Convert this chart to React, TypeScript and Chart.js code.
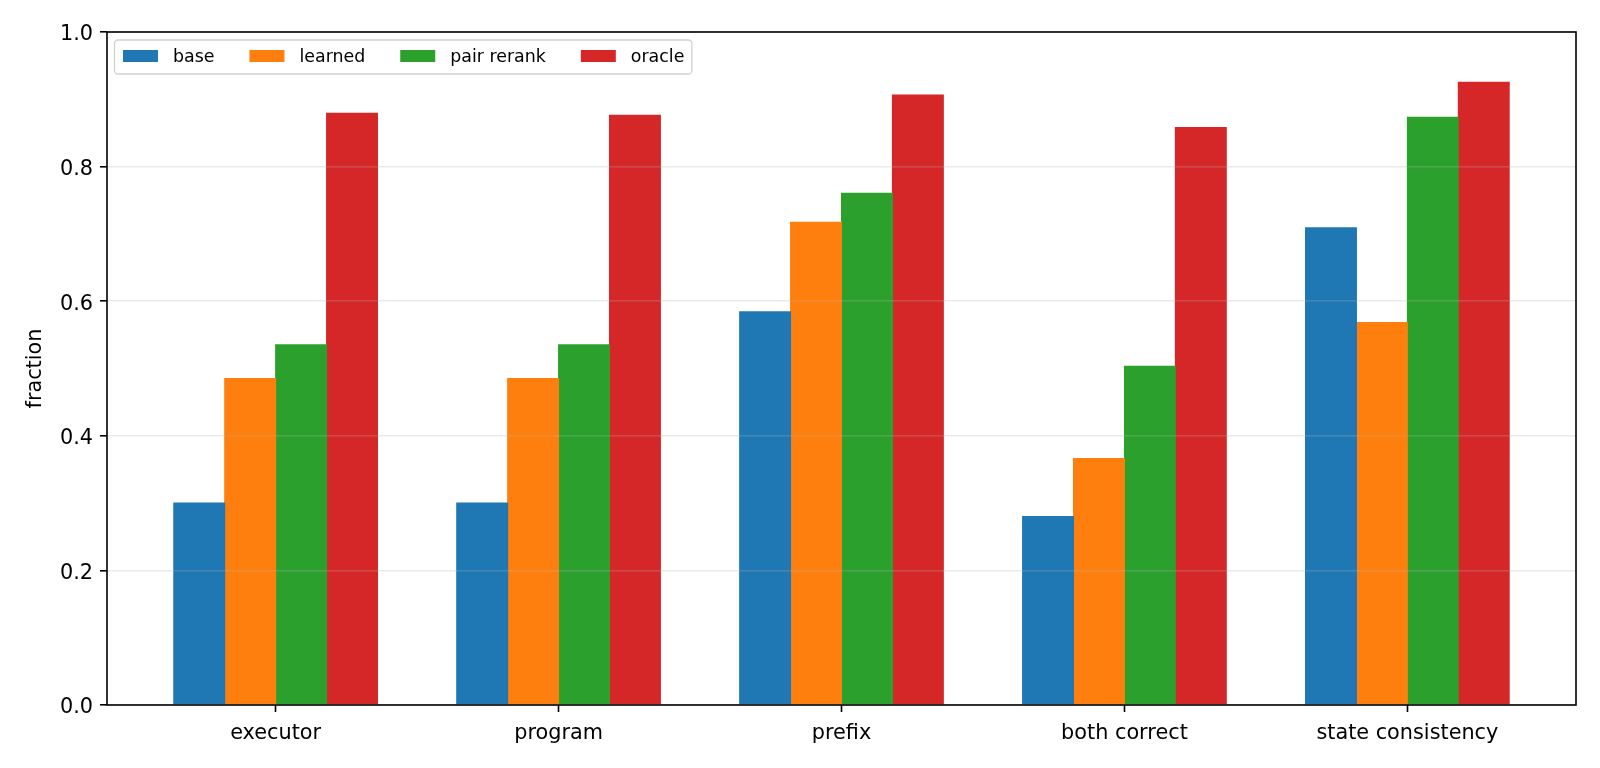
import React, { useEffect, useRef } from "react";
import { Chart, registerables } from "chart.js";

Chart.register(...registerables);

const categories = ["executor", "program", "prefix", "both correct", "state consistency"];
const seriesNames = ["base", "learned", "pair rerank", "oracle"];
const baseValues = [0.301, 0.301, 0.585, 0.281, 0.71];
const learnedValues = [0.486, 0.486, 0.718, 0.367, 0.569];
const pairRerankValues = [0.536, 0.536, 0.761, 0.504, 0.874];
const oracleValues = [0.88, 0.877, 0.907, 0.859, 0.926];
const seriesColors = ["#1f77b4", "#ff7f0e", "#2ca02c", "#d62728"];
const yAxisTitle = "fraction";

const FONT = '"DejaVu Sans", "Liberation Sans", sans-serif';

const frameAndLegendPlugin = {
  id: "frameAndLegend",
  afterDraw(chart: any) {
    const ctx = chart.ctx as CanvasRenderingContext2D;
    const a = chart.chartArea;
    ctx.save();
    // axes frame
    ctx.strokeStyle = "#000";
    ctx.lineWidth = 1.6;
    ctx.strokeRect(a.left, a.top, a.right - a.left, a.bottom - a.top);

    // legend (matplotlib style, upper left)
    const fs = 17.4;
    ctx.font = `${fs}px ${FONT}`;
    const items = chart.data.datasets.map((ds: any) => ({
      label: ds.label,
      color: ds.backgroundColor,
      tw: ctx.measureText(ds.label).width,
    }));
    const boxL = a.left + 7.5;
    const boxT = a.top + 8;
    const padL = 8.5;
    const padR = 7.5;
    const handleW = 35;
    const handleH = 12;
    const gap = 15;
    const colSp = 35;
    let w = padL + padR;
    items.forEach((it: any, i: number) => {
      w += handleW + gap + it.tw + (i < items.length - 1 ? colSp : 0);
    });
    const h = 34;
    const r = 3.5;
    ctx.beginPath();
    ctx.moveTo(boxL + r, boxT);
    ctx.lineTo(boxL + w - r, boxT);
    ctx.arcTo(boxL + w, boxT, boxL + w, boxT + r, r);
    ctx.lineTo(boxL + w, boxT + h - r);
    ctx.arcTo(boxL + w, boxT + h, boxL + w - r, boxT + h, r);
    ctx.lineTo(boxL + r, boxT + h);
    ctx.arcTo(boxL, boxT + h, boxL, boxT + h - r, r);
    ctx.lineTo(boxL, boxT + r);
    ctx.arcTo(boxL, boxT, boxL + r, boxT, r);
    ctx.closePath();
    ctx.fillStyle = "rgba(255,255,255,0.8)";
    ctx.fill();
    ctx.strokeStyle = "#d0d0d0";
    ctx.lineWidth = 1.3;
    ctx.stroke();

    let x = boxL + padL;
    const cy = boxT + h / 2;
    ctx.textBaseline = "middle";
    ctx.textAlign = "left";
    items.forEach((it: any) => {
      ctx.fillStyle = it.color;
      ctx.fillRect(x, cy - handleH / 2 - 1, handleW, handleH);
      x += handleW + gap;
      ctx.fillStyle = "#000";
      ctx.fillText(it.label, x, cy);
      x += it.tw + colSp;
    });
    ctx.restore();
  },
};

export default function App() {
  const canvasRef = useRef<HTMLCanvasElement | null>(null);

  useEffect(() => {
    const canvas = canvasRef.current;
    if (!canvas) return;
    const seriesValues = [baseValues, learnedValues, pairRerankValues, oracleValues];
    const datasets = seriesNames.map((name, si) => ({
      label: name,
      data: categories.map((_, ci) => ({ x: ci, y: seriesValues[si][ci] })),
      backgroundColor: seriesColors[si],
      borderWidth: 0,
      categoryPercentage: 0.72,
      barPercentage: 1.02,
    }));
    const tickFont = { family: FONT, size: 20.8 };
    const chart = new Chart(canvas, {
      type: "bar",
      data: { datasets },
      options: {
        responsive: false,
        animation: false,
        events: [],
        layout: { padding: { left: 0, right: 24, top: 32, bottom: 0 } },
        plugins: {
          legend: { display: false },
          tooltip: { enabled: false },
        },
        scales: {
          x: {
            type: "linear",
            min: -0.596,
            max: 4.596,
            offset: false,
            afterFit: (s: any) => {
              s.height = 63;
            },
            border: { display: false },
            grid: {
              offset: false,
              drawOnChartArea: false,
              drawTicks: true,
              tickLength: 7,
              tickColor: "#000",
              tickWidth: 1.6,
            },
            ticks: {
              stepSize: 1,
              includeBounds: false,
              autoSkip: false,
              maxRotation: 0,
              minRotation: 0,
              padding: 9,
              color: "#000",
              font: tickFont,
              callback: (v: any) => categories[Number(v)] ?? "",
            },
          },
          y: {
            min: 0,
            max: 1,
            afterFit: (s: any) => {
              s.width = 107;
            },
            border: { display: false },
            grid: {
              z: 1,
              color: "rgba(176,176,176,0.27)",
              lineWidth: 1.6,
              drawTicks: true,
              tickLength: 7,
              tickColor: "#000",
              tickWidth: 1.6,
            },
            ticks: {
              stepSize: 0.2,
              padding: 7,
              labelOffset: 3,
              color: "#000",
              font: tickFont,
              callback: (v: any) => Number(v).toFixed(1),
            },
            title: {
              display: true,
              text: yAxisTitle,
              color: "#000",
              font: tickFont,
              padding: { top: 23.5, bottom: 0 },
            },
          },
        },
      } as any,
      plugins: [frameAndLegendPlugin],
    });
    return () => chart.destroy();
  }, []);

  return (
    <div style={{ position: "absolute", left: 0, top: 0, width: 1600, height: 768, background: "#fff" }}>
      <canvas ref={canvasRef} width={1600} height={768} style={{ display: "block", width: 1600, height: 768 }} />
    </div>
  );
}
